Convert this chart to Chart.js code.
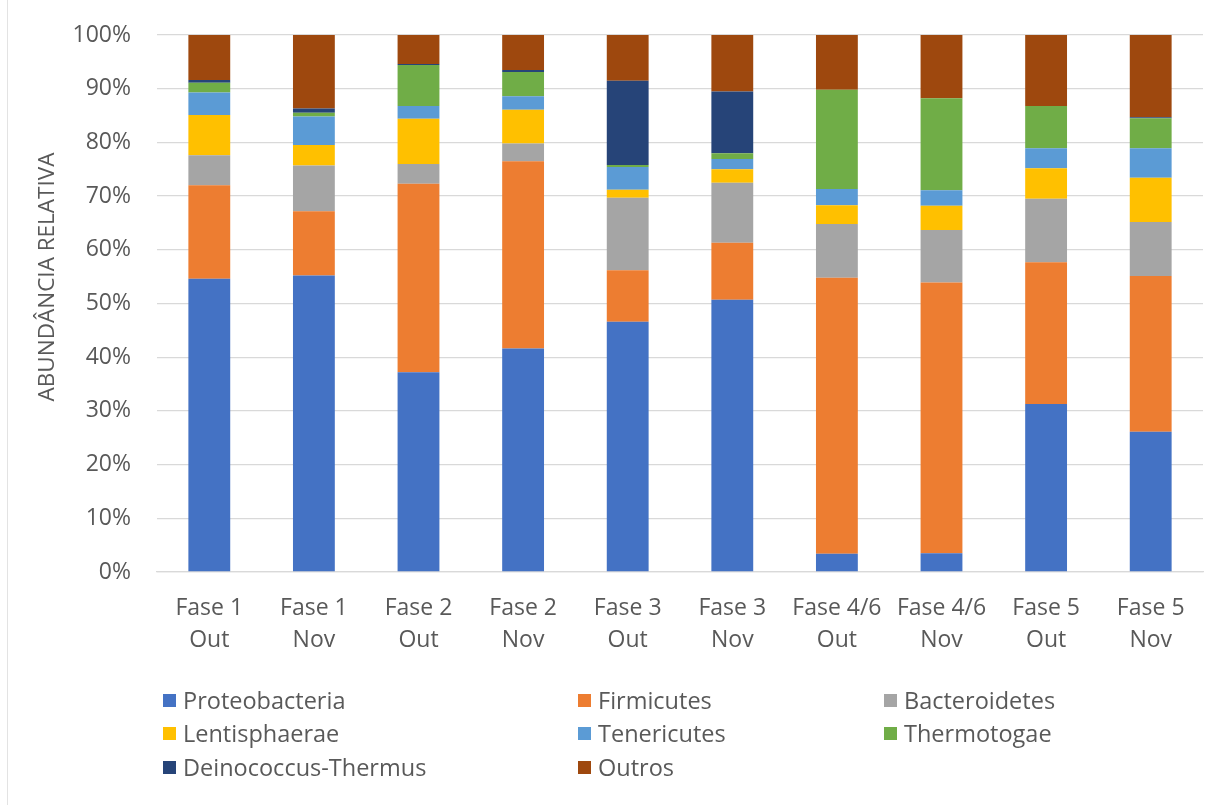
<!DOCTYPE html>
<html lang="pt">
<head>
<meta charset="utf-8">
<title>Abundância relativa por fase</title>
<script src="https://cdn.jsdelivr.net/npm/chart.js@4.4.1/dist/chart.umd.min.js"></script>
<style>
  html, body { margin: 0; padding: 0; background: #ffffff; }
  #wrap { position: relative; width: 1218px; height: 805px; overflow: hidden; }
  #chart { position: absolute; left: 0; top: 0; }
  #frame { position: absolute; left: 7px; top: 0; width: 1px; height: 805px; background: #e3e3e3; }
  .leg { position: absolute; display: flex; align-items: center; height: 30px;
         font-family: "Open Sans", sans-serif; font-size: 23.5px; color: #595959; white-space: nowrap; }
  .leg i { display: inline-block; width: 13px; height: 13px; margin-right: 7px; }
</style>
</head>
<body>
<div id="wrap">
  <canvas id="chart" width="1218" height="805"></canvas>
  <div id="frame"></div>
</div>
<script>
// Sample groups (phase / month)
const categories = [
  ["Fase 1", "Out"], ["Fase 1", "Nov"],
  ["Fase 2", "Out"], ["Fase 2", "Nov"],
  ["Fase 3", "Out"], ["Fase 3", "Nov"],
  ["Fase 4/6", "Out"], ["Fase 4/6", "Nov"],
  ["Fase 5", "Out"], ["Fase 5", "Nov"]
];

// Relative abundance of each phylum (%)
const proteobacteria = [54.6, 55.2, 37.2, 41.6, 46.6, 50.7, 3.4, 3.5, 31.3, 26.1];
const firmicutes     = [17.4, 12.0, 35.1, 34.9, 9.6, 10.6, 51.4, 50.4, 26.4, 29.0];
const bacteroidetes  = [5.6, 8.5, 3.7, 3.3, 13.5, 11.2, 10.0, 9.8, 11.8, 10.1];
const lentisphaerae  = [7.5, 3.8, 8.4, 6.3, 1.5, 2.5, 3.5, 4.5, 5.7, 8.2];
const tenericutes    = [4.2, 5.3, 2.4, 2.5, 4.2, 1.9, 3.0, 2.9, 3.7, 5.5];
const thermotogae    = [1.8, 0.7, 7.6, 4.5, 0.4, 1.1, 18.5, 17.1, 7.9, 5.6];
const deinococcus    = [0.5, 0.8, 0.2, 0.4, 15.7, 11.5, 0.0, 0.0, 0.0, 0.2];
const outros         = [8.4, 13.7, 5.4, 6.5, 8.5, 10.5, 10.2, 11.8, 13.2, 15.3];

const yTicks = [0, 10, 20, 30, 40, 50, 60, 70, 80, 90, 100];
const yTitle = "ABUNDÂNCIA RELATIVA";

const series = [
  { label: "Proteobacteria",      data: proteobacteria, color: "#4472C4" },
  { label: "Firmicutes",          data: firmicutes,     color: "#ED7D31" },
  { label: "Bacteroidetes",       data: bacteroidetes,  color: "#A5A5A5" },
  { label: "Lentisphaerae",       data: lentisphaerae,  color: "#FFC000" },
  { label: "Tenericutes",         data: tenericutes,    color: "#5B9BD5" },
  { label: "Thermotogae",         data: thermotogae,    color: "#70AD47" },
  { label: "Deinococcus-Thermus", data: deinococcus,    color: "#264478" },
  { label: "Outros",              data: outros,         color: "#9E480E" }
];

const FONT = "'Open Sans', sans-serif";
const TEXT = "#595959";
const GRID = "#d9d9d9";

// Rotated y-axis title, centred beside the plot
const yTitlePlugin = {
  id: "yTitle",
  afterDraw(chart) {
    const ctx = chart.ctx;
    ctx.save();
    ctx.translate(48, 277);
    ctx.rotate(-Math.PI / 2);
    ctx.font = "22.5px " + FONT;
    ctx.fillStyle = TEXT;
    ctx.textAlign = "center";
    ctx.textBaseline = "middle";
    ctx.fillText(yTitle, 0, 0);
    ctx.restore();
  }
};

const chart = new Chart(document.getElementById("chart"), {
  type: "bar",
  data: {
    labels: categories,
    datasets: series.map(s => ({
      label: s.label,
      data: s.data,
      backgroundColor: s.color,
      borderWidth: 0,
      categoryPercentage: 1.0,
      barPercentage: 0.4
    }))
  },
  options: {
    responsive: false,
    animation: false,
    devicePixelRatio: 1,
    layout: { padding: { left: 0, right: 15, top: 35, bottom: 0 } },
    plugins: { legend: { display: false }, tooltip: { enabled: false }, title: { display: false } },
    scales: {
      x: {
        stacked: true,
        grid: { display: false, drawTicks: false },
        border: { display: true, color: GRID, width: 1.3 },
        ticks: {
          color: TEXT,
          font: { family: FONT, size: 23, lineHeight: 1.4 },
          padding: 20,
          maxRotation: 0,
          autoSkip: false
        },
        afterFit(scale) { scale.height = 233; scale.paddingLeft = 0; scale.paddingRight = 0; }
      },
      y: {
        stacked: true,
        min: 0,
        max: 100,
        afterBuildTicks(scale) { scale.ticks = yTicks.map(v => ({ value: v })); },
        grid: { color: GRID, lineWidth: 1.3, drawTicks: false },
        border: { display: false },
        ticks: {
          color: TEXT,
          font: { family: FONT, size: 23 },
          padding: 26,
          callback: v => v + "%"
        },
        afterFit(scale) { scale.width = 157; scale.paddingTop = 0; scale.paddingBottom = 0; }
      }
    }
  },
  plugins: [yTitlePlugin]
});

// Legend: three columns, filled row by row
const legendCols = [163, 578, 884];
const legendRows = [700, 733, 767];
const wrap = document.getElementById("wrap");
series.forEach((s, i) => {
  const el = document.createElement("div");
  el.className = "leg";
  el.style.left = legendCols[i % 3] + "px";
  el.style.top = (legendRows[Math.floor(i / 3)] - 15) + "px";
  const box = document.createElement("i");
  box.style.background = s.color;
  el.appendChild(box);
  el.appendChild(document.createTextNode(s.label));
  wrap.appendChild(el);
});
</script>
</body>
</html>
